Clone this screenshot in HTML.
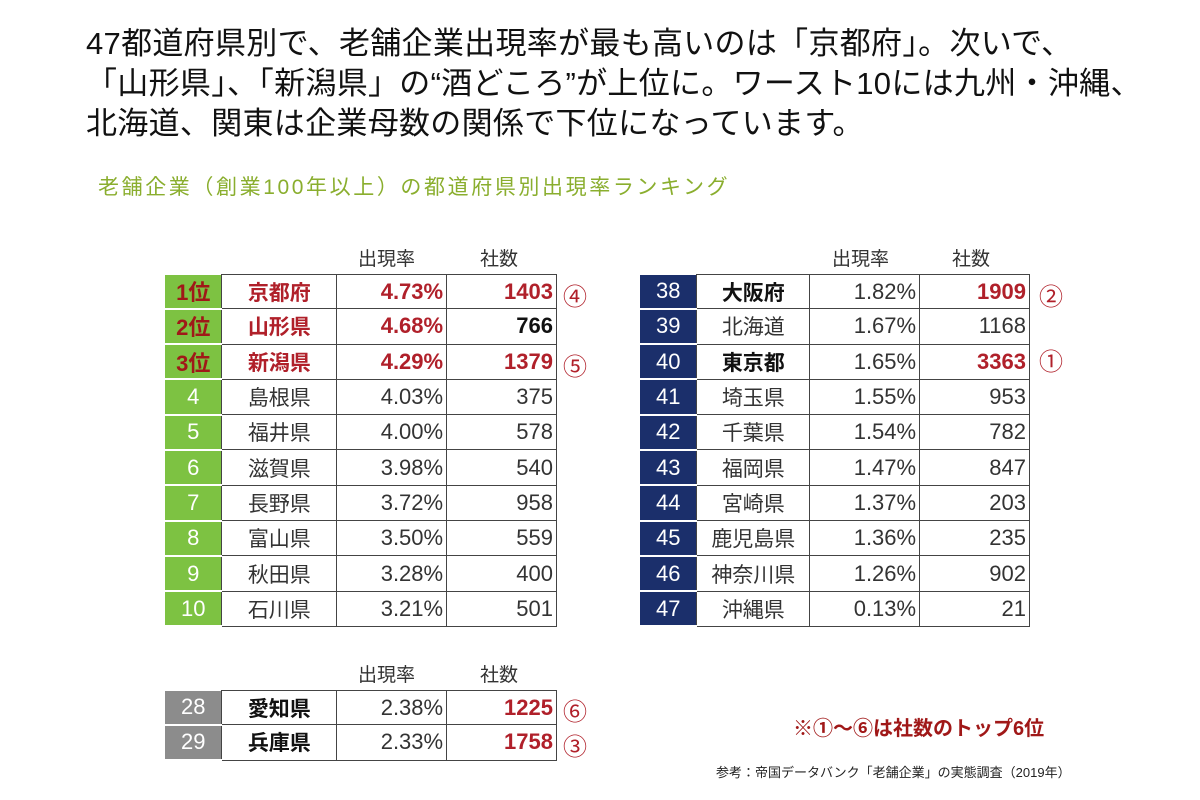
<!DOCTYPE html>
<html><head><meta charset="utf-8"><style>
body{margin:0;width:1200px;height:800px;background:#fff;font-family:"Liberation Sans","Noto Sans CJK JP",sans-serif;position:relative;overflow:hidden}
.t{position:absolute;left:86px;font-size:31px;color:#111;white-space:nowrap;line-height:40px;letter-spacing:0.3px}
.sub{position:absolute;left:98px;top:171px;font-size:21px;color:#8aae2e;letter-spacing:2.6px}
table{position:absolute;border-collapse:collapse;font-size:22px;color:#333}
td{height:33.3px;padding:0;border:1px solid #444}
td.r{border:none;border-bottom:2px solid #fff;color:#fff;text-align:center}
td.n{text-align:center;font-size:21px}
td.p,td.c{text-align:right;padding-right:3px}
.g td.r{background:#7dc242}
.b td.r{background:#1b2f6b}
.y td.r{background:#8c8c8c}
.red{color:#b0202a;font-weight:bold}
.bk{color:#111;font-weight:bold}
.h{position:absolute;font-size:19px;color:#333}
.m{position:absolute;font-size:24px;color:#b0202a}
</style></head><body>
<div class="t" style="top:24px">47都道府県別で、老舗企業出現率が最も高いのは「京都府」。次いで、</div>
<div class="t" style="top:64px">「山形県」、「新潟県」の“酒どころ”が上位に。ワースト10には九州・沖縄、</div>
<div class="t" style="top:104px">北海道、関東は企業母数の関係で下位になっています。</div>
<div class="sub">老舗企業（創業100年以上）の都道府県別出現率ランキング</div>

<div class="h" style="left:358px;top:244px">出現率</div><div class="h" style="left:480px;top:244px">社数</div>
<div class="h" style="left:832px;top:244px">出現率</div><div class="h" style="left:952px;top:244px">社数</div>
<div class="h" style="left:358px;top:660px">出現率</div><div class="h" style="left:480px;top:660px">社数</div>

<table class="g" style="left:165px;top:274px;width:392px">
<colgroup><col style="width:57px"><col style="width:115px"><col style="width:110px"><col style="width:110px"></colgroup>
<tr><td class="r" style="color:#a01818;font-weight:bold">1位</td><td class="n red">京都府</td><td class="p red">4.73%</td><td class="c red">1403</td></tr>
<tr><td class="r" style="color:#a01818;font-weight:bold">2位</td><td class="n red">山形県</td><td class="p red">4.68%</td><td class="c bk">766</td></tr>
<tr><td class="r" style="color:#a01818;font-weight:bold">3位</td><td class="n red">新潟県</td><td class="p red">4.29%</td><td class="c red">1379</td></tr>
<tr><td class="r">4</td><td class="n">島根県</td><td class="p">4.03%</td><td class="c">375</td></tr>
<tr><td class="r">5</td><td class="n">福井県</td><td class="p">4.00%</td><td class="c">578</td></tr>
<tr><td class="r">6</td><td class="n">滋賀県</td><td class="p">3.98%</td><td class="c">540</td></tr>
<tr><td class="r">7</td><td class="n">長野県</td><td class="p">3.72%</td><td class="c">958</td></tr>
<tr><td class="r">8</td><td class="n">富山県</td><td class="p">3.50%</td><td class="c">559</td></tr>
<tr><td class="r">9</td><td class="n">秋田県</td><td class="p">3.28%</td><td class="c">400</td></tr>
<tr><td class="r">10</td><td class="n">石川県</td><td class="p">3.21%</td><td class="c">501</td></tr>
</table>

<table class="b" style="left:640px;top:274px;width:390px">
<colgroup><col style="width:57px"><col style="width:113px"><col style="width:110px"><col style="width:110px"></colgroup>
<tr><td class="r">38</td><td class="n bk">大阪府</td><td class="p">1.82%</td><td class="c red">1909</td></tr>
<tr><td class="r">39</td><td class="n">北海道</td><td class="p">1.67%</td><td class="c">1168</td></tr>
<tr><td class="r">40</td><td class="n bk">東京都</td><td class="p">1.65%</td><td class="c red">3363</td></tr>
<tr><td class="r">41</td><td class="n">埼玉県</td><td class="p">1.55%</td><td class="c">953</td></tr>
<tr><td class="r">42</td><td class="n">千葉県</td><td class="p">1.54%</td><td class="c">782</td></tr>
<tr><td class="r">43</td><td class="n">福岡県</td><td class="p">1.47%</td><td class="c">847</td></tr>
<tr><td class="r">44</td><td class="n">宮崎県</td><td class="p">1.37%</td><td class="c">203</td></tr>
<tr><td class="r">45</td><td class="n">鹿児島県</td><td class="p">1.36%</td><td class="c">235</td></tr>
<tr><td class="r">46</td><td class="n">神奈川県</td><td class="p">1.26%</td><td class="c">902</td></tr>
<tr><td class="r">47</td><td class="n">沖縄県</td><td class="p">0.13%</td><td class="c">21</td></tr>
</table>

<table class="y" style="left:165px;top:690px;width:392px">
<colgroup><col style="width:57px"><col style="width:115px"><col style="width:110px"><col style="width:110px"></colgroup>
<tr><td class="r">28</td><td class="n bk">愛知県</td><td class="p">2.38%</td><td class="c red">1225</td></tr>
<tr><td class="r">29</td><td class="n bk">兵庫県</td><td class="p">2.33%</td><td class="c red">1758</td></tr>
</table>

<div class="m" style="left:563px;top:277px">④</div>
<div class="m" style="left:563px;top:347px">⑤</div>
<div class="m" style="left:1039px;top:277px">②</div>
<div class="m" style="left:1039px;top:342px">①</div>
<div class="m" style="left:563px;top:692px">⑥</div>
<div class="m" style="left:563px;top:727px">③</div>
<div style="position:absolute;left:793px;top:712px;font-size:20px;color:#a01818;font-weight:bold">※①～⑥は社数のトップ6位</div>
<div style="position:absolute;left:716px;top:762px;font-size:13px;color:#222">参考：帝国データバンク「老舗企業」の実態調査（2019年）</div>
</body></html>
